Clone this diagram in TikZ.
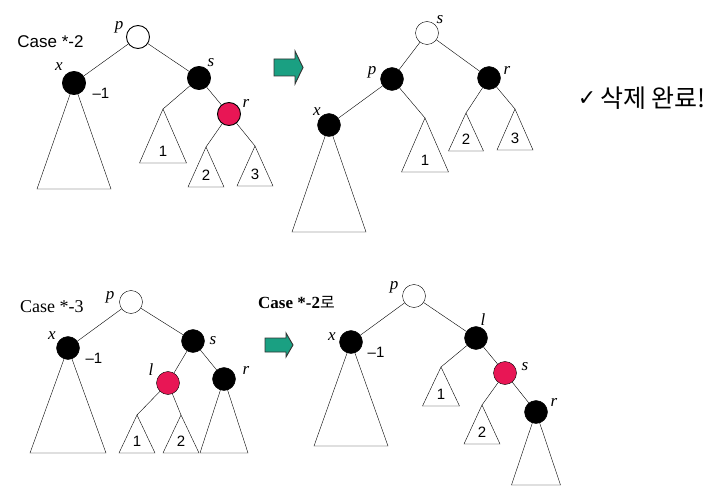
\documentclass[tikz,border=0pt]{standalone}
\usepackage{fontspec}
\setmainfont{Liberation Serif}
\newfontfamily\sansfont{Liberation Sans}
\newfontfamily\kofont{Noto Sans CJK KR}
\newfontfamily\symbfont{DejaVu Sans}
\usetikzlibrary{calc,backgrounds}
\definecolor{nodered}{RGB}{232,22,85}
\definecolor{arrowgreen}{RGB}{26,160,130}
% subtree: name, apex, half width, height, label
\newcommand\subtree[5]{%
  \coordinate (#1) at (#2);
  \draw (#1) -- ++(-#3,#4) coordinate (#1-l) -- ++(2*#3,0) coordinate (#1-r) -- cycle;
  \if\relax\detokenize{#5}\relax\else
    \node[num] (#1-n) at ($(#1-l)!0.5!(#1-r)+(0,-12)$) {#5};
  \fi}
% block arrow: tail, body length, head length, body half, head half
\newcommand\bigarrow[5]{%
  \draw[fatarrow] (#1) ++(0,-#4) -- ++(#2,0) -- ++(0,#4-#5) -- ++(#3,#5)
    -- ++(-#3,#5) -- ++(0,#4-#5) -- ++(-#2,0) -- cycle;}
\begin{document}
\begin{tikzpicture}[x=1pt, y=-1pt, line width=0.9pt,
  wnode/.style={circle, draw=black, fill=white, minimum size=23pt, inner sep=0pt},
  bnode/.style={wnode, fill=black},
  rnode/.style={wnode, fill=nodered},
  lbl/.style={inner sep=0pt, font=\fontsize{17}{17}\selectfont\itshape},
  num/.style={inner sep=0pt, font=\sansfont\fontsize{15}{15}\selectfont},
  casetext/.style={inner sep=0pt, anchor=west},
  fatarrow/.style={draw=black!80, line width=0.9pt, fill=arrowgreen}]
  \useasboundingbox (0,0) rectangle (724,495);

  % Case *-2
  \node[casetext, font=\sansfont\fontsize{17}{17}\selectfont] (case2) at (17,42) {Case *-2};
  \node[wnode] (p1) at (138,37) {};
  \node[bnode] (x1) at (74,83) {};
  \node[bnode] (s1) at (199,78) {};
  \node[rnode] (r1) at (229,114) {};
  \node[lbl] (lp1) at (119,27) {p};
  \node[lbl] (lx1) at (59,67) {x};
  \node[num] (m1) at (101,93) {–1};
  \node[lbl] (ls1) at (211,63) {s};
  \node[lbl] (lr1) at (246,103) {r};
  \begin{pgfonlayer}{background}
    \subtree{x1t}{x1.center}{37}{106}{}
  \end{pgfonlayer}
  \subtree{t11}{163,109}{23.5}{54}{1}
  \subtree{t12}{206,147}{18}{40}{2}
  \subtree{t13}{255,146}{18}{40}{3}
  \draw (p1) -- (x1);
  \draw (p1) -- (s1);
  \draw (s1) -- (t11);
  \draw (s1) -- (r1);
  \draw (r1) -- (t12);
  \draw (r1) -- (t13);

  \bigarrow{274,67.5}{21}{8}{8.5}{16.5}

  % after rotation
  \node[wnode] (s2) at (427,33) {};
  \node[bnode] (p2) at (392,79) {};
  \node[bnode] (r2) at (489,78) {};
  \node[bnode] (x2) at (329,125) {};
  \node[lbl] (ls2) at (440,20) {s};
  \node[lbl] (lp2) at (372,72) {p};
  \node[lbl] (lr2) at (507,70) {r};
  \node[lbl] (lx2) at (317,112) {x};
  \begin{pgfonlayer}{background}
    \subtree{x2t}{x2.center}{37}{107}{}
  \end{pgfonlayer}
  \subtree{t21}{425,118}{23.5}{54}{1}
  \subtree{t22}{466,113}{17.5}{38}{2}
  \subtree{t23}{515,109}{18}{41}{3}
  \draw (s2) -- (p2);
  \draw (s2) -- (r2);
  \draw (p2) -- (x2);
  \draw (p2) -- (t21);
  \draw (r2) -- (t22);
  \draw (r2) -- (t23);

  \node[inner sep=0pt, font=\symbfont\fontsize{22}{22}\selectfont] (chk) at (587,99) {✓};
  \node[casetext, font=\kofont\fontsize{25}{25}\selectfont] (done) at (600,98) {삭제 완료!};

  % Case *-3
  \node[casetext, font=\fontsize{18}{18}\selectfont] (case3) at (20,307) {Case *-3};
  \node[wnode] (p3) at (131,302) {};
  \node[bnode] (x3) at (68,348) {};
  \node[bnode] (s3) at (193,341) {};
  \node[rnode] (l3) at (168,383) {};
  \node[bnode] (r3) at (224,379) {};
  \node[lbl] (lp3) at (110,297) {p};
  \node[lbl] (lx3) at (52,336) {x};
  \node[num] (m3) at (94,358) {–1};
  \node[lbl] (ls3) at (213,341) {s};
  \node[lbl] (ll3) at (151,370) {l};
  \node[lbl] (lr3) at (246,370) {r};
  \begin{pgfonlayer}{background}
    \subtree{x3t}{x3.center}{38}{105}{}
    \subtree{r3t}{r3.center}{24}{74}{}
  \end{pgfonlayer}
  \subtree{t31}{137,415}{18}{38}{1}
  \subtree{t32}{181,415}{18}{38}{2}
  \draw (p3) -- (x3);
  \draw (p3) -- (s3);
  \draw (s3) -- (l3);
  \draw (s3) -- (r3);
  \draw (l3) -- (t31);
  \draw (l3) -- (t32);

  \node[casetext, font=\bfseries\fontsize{17}{17}\selectfont] (to2) at (258,303)
    {Case *-2{\kofont\mdseries\fontsize{16}{16}\selectfont 로}};
  \bigarrow{265,345}{21}{7}{7}{12}

  % after rotation at s
  \node[wnode] (p4) at (414,296) {};
  \node[bnode] (x4) at (351,342) {};
  \node[bnode] (l4) at (476,338) {};
  \node[rnode] (s4) at (505,373) {};
  \node[bnode] (r4) at (536,412) {};
  \node[lbl] (lp4) at (394,287) {p};
  \node[lbl] (lx4) at (332,337) {x};
  \node[num] (m4) at (376,352) {–1};
  \node[lbl] (ll4) at (483,320) {l};
  \node[lbl] (ls4) at (525,367) {s};
  \node[lbl] (lr4) at (554,402) {r};
  \begin{pgfonlayer}{background}
    \subtree{x4t}{x4.center}{37}{104}{}
    \subtree{r4t}{r4.center}{24.5}{73}{}
  \end{pgfonlayer}
  \subtree{t41}{441,367}{18.5}{39}{1}
  \subtree{t42}{482,405}{18}{39}{2}
  \draw (p4) -- (x4);
  \draw (p4) -- (l4);
  \draw (l4) -- (t41);
  \draw (l4) -- (s4);
  \draw (s4) -- (t42);
  \draw (s4) -- (r4);
\end{tikzpicture}
\end{document}
